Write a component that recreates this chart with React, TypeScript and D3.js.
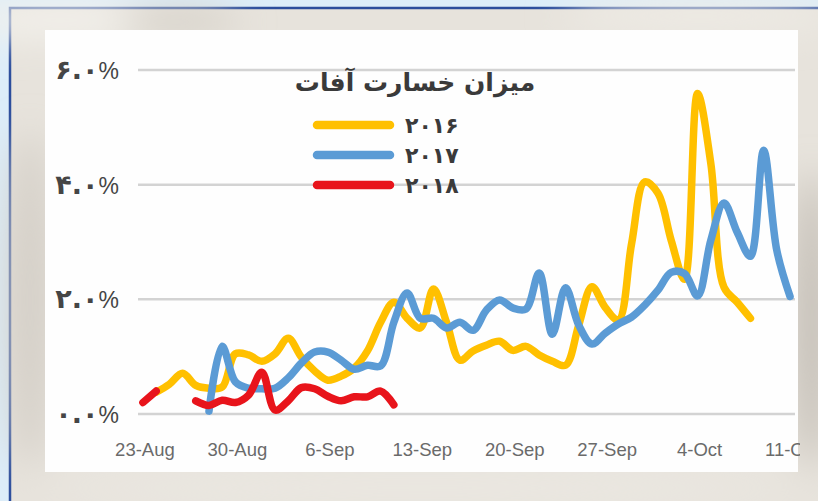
import React from 'react';
import * as d3 from 'd3';

const W = 818;
const H = 501;

// first day of the axis (day index 0)
const startDate = new Date(2018, 7, 23);
const tickLabels = ['23-Aug', '30-Aug', '6-Sep', '13-Sep', '20-Sep', '27-Sep', '4-Oct', '11-Oct'];
const yTicks = [0, 2, 4, 6];
const yTickLabels = ['۰.۰', '۲.۰', '۴.۰', '۶.۰'];
const title = 'میزان خسارت آفات';
const seriesNames = ['۲۰۱۶', '۲۰۱۷', '۲۰۱۸'];
const seriesColors = ['#FFC000', '#5B9BD5', '#E8141B'];

// daily values in percent, index 0 = 23-Aug
const values2016: (number | null)[] = [
  null, 0.38, 0.52, 0.71, 0.5, 0.45, 0.47, 1.05, 1.03, 0.92,
  1.05, 1.32, 0.99, 0.75, 0.59, 0.66, 0.8, 1.1, 1.6, 1.95,
  1.67, 1.5, 2.18, 1.59, 0.94, 1.1, 1.2, 1.27, 1.11, 1.18,
  1.03, 0.92, 0.85, 1.55, 2.22, 1.86, 1.64, 2.97, 4.05, 3.85,
  3.03, 2.35, 5.59, 4.37, 2.21, 1.95, 1.67,
];
const values2017: (number | null)[] = [
  null, null, null, null, null, 0.05, 1.18, 0.56, 0.45, 0.44,
  0.45, 0.63, 0.89, 1.08, 1.08, 0.94, 0.78, 0.85, 0.84, 1.6,
  2.11, 1.67, 1.67, 1.5, 1.6, 1.46, 1.81, 1.99, 1.85, 1.83,
  2.46, 1.39, 2.2, 1.55, 1.22, 1.41, 1.57, 1.69, 1.9, 2.16,
  2.47, 2.45, 2.06, 3.03, 3.68, 3.17, 2.75, 4.6, 2.85, 2.05,
];
const values2018: (number | null)[] = [
  0.2, 0.4, null, null, 0.23, 0.15, 0.24, 0.2, 0.33, 0.73,
  0.07, 0.23, 0.46, 0.44, 0.31, 0.23, 0.3, 0.3, 0.4, 0.16,
];

const allSeries = [values2016, values2017, values2018];

const day = (i: number) => d3.timeDay.offset(startDate, i);

const App: React.FC = () => {
  const x = d3
    .scaleTime()
    .domain([d3.timeHour.offset(startDate, -9), d3.timeHour.offset(day(49), 9)])
    .range([138, 795]);
  const y = d3.scaleLinear().domain([0, 6]).range([414, 70]);

  const line = d3
    .line<number | null>()
    .defined((v) => v != null)
    .x((_, i) => x(day(i)))
    .y((v) => y(v as number))
    .curve(d3.curveCatmullRom.alpha(0.5));

  const tickDates = tickLabels.map((_, i) => day(i * 7));
  const legendY = [125, 155, 185];

  return (
    <svg
      width={W}
      height={H}
      style={{ position: 'absolute', left: 0, top: 0, display: 'block' }}
    >
      <defs>
        <filter id="blur" x="-50%" y="-50%" width="200%" height="200%">
          <feGaussianBlur stdDeviation="18" />
        </filter>
        <clipPath id="panelClip">
          <rect x={45} y={30} width={755} height={442} />
        </clipPath>
      </defs>

      {/* frame and blurred backdrop */}
      <rect x={0} y={0} width={W} height={H} fill="#dcedf9" />
      <rect x={10} y={8} width={W} height={H} fill="#e7e3dc" stroke="#2b4d9c" strokeWidth={2.5} />
      <g filter="url(#blur)">
        <ellipse cx={60} cy={20} rx={120} ry={18} fill="#f3f1ec" />
        <ellipse cx={180} cy={22} rx={60} ry={14} fill="#d6d1c9" />
        <ellipse cx={30} cy={300} rx={22} ry={170} fill="#d3cec6" />
        <ellipse cx={812} cy={320} rx={16} ry={150} fill="#bdb7af" />
        <ellipse cx={700} cy={16} rx={140} ry={16} fill="#efece6" />
        <ellipse cx={420} cy={488} rx={380} ry={14} fill="#ece9e3" />
      </g>
      <rect x={45} y={30} width={753} height={442} fill="#fefefe" />

      {/* gridlines */}
      {yTicks.map((t) => (
        <line key={t} x1={138} x2={795} y1={y(t)} y2={y(t)} stroke="#d3d3d3" strokeWidth={2.5} />
      ))}

      {/* y labels */}
      {yTicks.map((t, i) => (
        <text
          key={t}
          x={119}
          y={y(t) + 9}
          textAnchor="end"
          fill="#454545"
          style={{ direction: 'ltr' }}
        >
          <tspan fontFamily="DejaVu Sans" fontWeight="bold" fontSize={27}>
            {yTickLabels[i]}
          </tspan>
          <tspan fontFamily="Liberation Sans" fontSize={23}>%</tspan>
        </text>
      ))}

      {/* x labels */}
      <g clipPath="url(#panelClip)">
        {tickDates.map((d, i) => (
          <text
            key={i}
            x={x(d) + 2}
            y={456}
            textAnchor="middle"
            fontFamily="Liberation Sans"
            fontSize={18.5}
            fill="#6a6a6a"
          >
            {tickLabels[i]}
          </text>
        ))}
      </g>

      {/* series */}
      {allSeries.map((s, i) => (
        <path
          key={i}
          d={line(s) ?? ''}
          fill="none"
          stroke={seriesColors[i]}
          strokeWidth={7.5}
          strokeLinecap="round"
          strokeLinejoin="round"
        />
      ))}

      {/* title */}
      <text
        x={415}
        y={91}
        textAnchor="middle"
        fontFamily="DejaVu Sans"
        fontWeight="bold"
        fontSize={25}
        fill="#3a3a3a"
        style={{ direction: 'rtl' }}
      >
        {title}
      </text>

      {/* legend */}
      {seriesNames.map((name, i) => (
        <g key={name}>
          <line
            x1={317}
            x2={390}
            y1={legendY[i]}
            y2={legendY[i]}
            stroke={seriesColors[i]}
            strokeWidth={8.5}
            strokeLinecap="round"
          />
          <text
            x={405}
            y={legendY[i] + 8}
            fontFamily="DejaVu Sans"
            fontWeight="bold"
            fontSize={22}
            fill="#3a3a3a"
            style={{ direction: 'ltr' }}
          >
            {name}
          </text>
        </g>
      ))}
    </svg>
  );
};

export default App;
